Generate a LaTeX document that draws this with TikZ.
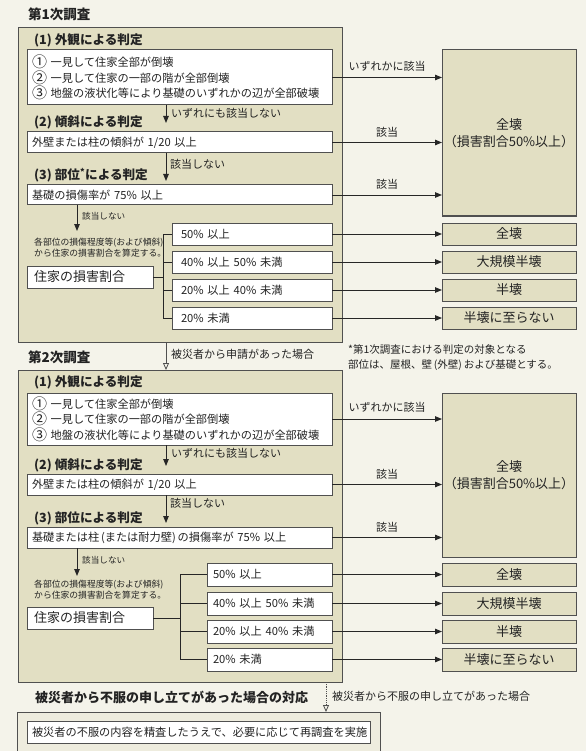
\documentclass[tikz,border=0pt]{standalone}
\usepackage{fontspec}
\setmainfont{Noto Sans CJK JP}
\usetikzlibrary{arrows.meta,calc}
\definecolor{bgc}{RGB}{244,243,234}
\definecolor{panelc}{RGB}{226,223,195}
\definecolor{panelcc}{RGB}{238,236,222}
\definecolor{edgec}{RGB}{80,80,80}
\definecolor{txtc}{RGB}{35,35,35}
\newcommand\fsz[2]{\fontsize{#1}{#2}\selectfont}
\newcommand\cnum[1]{\raisebox{-1pt}{\fsz{15}{15}#1}}
\tikzset{
  panel/.style={draw=edgec, line width=0.9pt, fill=panelc, anchor=north west, inner sep=0pt, outer sep=0pt},
  wbox/.style={draw=edgec, line width=1pt, fill=white, anchor=north west, inner xsep=5pt, inner ysep=0pt, outer sep=0pt, align=left, font=\fsz{11.2}{15.5}, text=txtc},
  rbox/.style={draw=edgec, line width=1pt, fill=panelc, anchor=north west, inner sep=0pt, outer sep=0pt, align=center, font=\fsz{13}{17}, text=txtc, minimum width=134},
  head/.style={anchor=west, inner sep=0pt, font={\bfseries\fsz{12.6}{14}}, text=txtc},
  ttl/.style={anchor=west, inner sep=0pt, font={\bfseries\fsz{13.5}{15}}, text=txtc},
  lbl/.style={anchor=west, inner sep=0pt, font=\fsz{11}{15}, text=txtc},
  lblc/.style={inner sep=0pt, font=\fsz{11}{15}, text=txtc},
  small/.style={anchor=west, inner sep=0pt, align=left, font=\fsz{8.8}{11}, text=txtc},
  smalllbl/.style={anchor=west, inner sep=0pt, font=\fsz{8.6}{10}, text=txtc},
  arr/.style={-{Triangle[length=7pt,width=5.5pt]}, line width=0.9pt, draw=black!85},
  oarr/.style={-{Triangle[open,length=7pt,width=6pt]}, line width=0.8pt, draw=edgec},
  conn/.style={line width=0.9pt, draw=black!85},
}
\begin{document}
\begin{tikzpicture}[x=1pt,y=-1pt]
\useasboundingbox (0,0) rectangle (586,751);
\clip (0,0) rectangle (586,751);
\fill[bgc] (0,0) rectangle (586,751);

% ---------- Panel 1 ----------
\node[ttl] (t1) at (28,14) {第1次調査};
\node[panel, minimum width=324, minimum height=315] (p1) at (18,27) {};
\node[head] (h11) at (34,40) {(1) 外観による判定};
\node[wbox, text width=295, minimum height=55] (b11) at (27,50) {\cnum{①} 一見して住家全部が倒壊\\\cnum{②} 一見して住家の一部の階が全部倒壊\\\cnum{③} 地盤の液状化等により基礎のいずれかの辺が全部破壊};
\node[head] (h12) at (34,122) {(2) 傾斜による判定};
\node[wbox, text width=295, minimum height=21] (b12) at (27,132) {外壁または柱の傾斜が 1/20 以上};
\node[head] (h13) at (34,175) {(3) 部位\textsuperscript{*}による判定};
\node[wbox, text width=295, minimum height=20] (b13) at (27,185) {基礎の損傷率が 75\% 以上};
\node[small] (s1) at (34,247.5) {各部位の損傷程度等(および傾斜)\\から住家の損害割合を算定する。};
\node[wbox, inner xsep=7pt, text width=112, minimum height=22, font=\fsz{13}{15}] (b14) at (27,266) {住家の損害割合};

\node[wbox, inner xsep=9pt, text width=142, minimum height=22] (r11) at (172,223) {50\% 以上};
\node[wbox, inner xsep=9pt, text width=142, minimum height=22] (r12) at (172,251) {40\% 以上 50\% 未満};
\node[wbox, inner xsep=9pt, text width=142, minimum height=22] (r13) at (172,279) {20\% 以上 40\% 未満};
\node[wbox, inner xsep=9pt, text width=142, minimum height=22] (r14) at (172,307) {20\% 未満};

\node[rbox, minimum height=166] (G1) at (442,50) {全壊\\（損害割合50\%以上）};
\node[rbox, minimum height=22] (R11) at (442,223) {全壊};
\node[rbox, minimum height=22] (R12) at (442,251) {大規模半壊};
\node[rbox, minimum height=22] (R13) at (442,279) {半壊};
\node[rbox, minimum height=22] (R14) at (442,307) {半壊に至らない};

\coordinate (vx) at (166,0);
\coordinate (e11) at (166,123);
\coordinate (e12) at (166,181);
\coordinate (e13) at (77,231);
\draw[arr] (vx |- b11.south) -- (e11);
\node[lbl] (l11) at (171,113) {いずれにも該当しない};
\draw[arr] (vx |- b12.south) -- (e12);
\node[lbl] (l12) at (170,164) {該当しない};
\draw[arr] (e13 |- b13.south) -- (e13);
\node[smalllbl] (l13) at (82,216) {該当しない};

\draw[arr] (b11.east) -- (G1.west |- b11.east) node[lblc, midway, above=6pt] (m11) {いずれかに該当};
\draw[arr] (b12.east) -- (G1.west |- b12.east) node[lblc, midway, above=5pt] (m12) {該当};
\draw[arr] (b13.east) -- (G1.west |- b13.east) node[lblc, midway, above=5pt] (m13) {該当};

\coordinate (bx1) at (163,0);
\draw[conn] (b14.east) -- (bx1 |- b14.east);
\draw[conn] (bx1 |- r11.west) -- (bx1 |- r14.west);
\foreach \i in {1,...,4} {
  \draw[conn] (bx1 |- r1\i.west) -- (r1\i.west);
  \draw[arr] (r1\i.east) -- (R1\i.west);
}

% ---------- Panel 2 ----------
\node[ttl] (t2) at (28,357) {第2次調査};
\node[panel, minimum width=324, minimum height=312] (p2) at (18,370) {};
\draw[oarr] (vx |- p1.south) -- (vx |- p2.north);
\node[lbl] (l2) at (171,354) {被災者から申請があった場合};
\node[lbl, align=left, font=\fsz{10.5}{15}] (note) at (348,357.5) {*第1次調査における判定の対象となる\\部位は、屋根、壁\,(外壁)\,および基礎とする。};

\node[head] (h21) at (34,382) {(1) 外観による判定};
\node[wbox, text width=295, minimum height=52] (b21) at (27,393) {\cnum{①} 一見して住家全部が倒壊\\\cnum{②} 一見して住家の一部の階が全部倒壊\\\cnum{③} 地盤の液状化等により基礎のいずれかの辺が全部破壊};
\node[head] (h22) at (34,465) {(2) 傾斜による判定};
\node[wbox, text width=295, minimum height=21] (b22) at (27,474) {外壁または柱の傾斜が 1/20 以上};
\node[head] (h23) at (34,518) {(3) 部位による判定};
\node[wbox, text width=295, minimum height=21] (b23) at (27,527) {基礎または柱\,(または耐力壁)\,の損傷率が 75\% 以上};
\node[small] (s2) at (34,589.5) {各部位の損傷程度等(および傾斜)\\から住家の損害割合を算定する。};
\node[wbox, inner xsep=7pt, text width=112, minimum height=22, font=\fsz{13}{15}] (b24) at (27,607) {住家の損害割合};

\node[wbox, inner xsep=6pt, text width=113, minimum height=23] (r21) at (207,563) {50\% 以上};
\node[wbox, inner xsep=6pt, text width=113, minimum height=23] (r22) at (207,592) {40\% 以上 50\% 未満};
\node[wbox, inner xsep=6pt, text width=113, minimum height=23] (r23) at (207,620) {20\% 以上 40\% 未満};
\node[wbox, inner xsep=6pt, text width=113, minimum height=23] (r24) at (207,648) {20\% 未満};

\node[rbox, minimum height=164] (G2) at (442,393) {全壊\\（損害割合50\%以上）};
\node[rbox, minimum height=23] (R21) at (442,563) {全壊};
\node[rbox, minimum height=23] (R22) at (442,592) {大規模半壊};
\node[rbox, minimum height=23] (R23) at (442,620) {半壊};
\node[rbox, minimum height=23] (R24) at (442,648) {半壊に至らない};

\coordinate (e21) at (166,466);
\coordinate (e22) at (166,523);
\coordinate (e23) at (77,576);
\draw[arr] (vx |- b21.south) -- (e21);
\node[lbl] (l21) at (171,453) {いずれにも該当しない};
\draw[arr] (vx |- b22.south) -- (e22);
\node[lbl] (l22) at (170,503) {該当しない};
\draw[arr] (e23 |- b23.south) -- (e23);
\node[smalllbl] (l23) at (82,560) {該当しない};

\draw[arr] (b21.east) -- (G2.west |- b21.east) node[lblc, midway, above=6pt] (m21) {いずれかに該当};
\draw[arr] (b22.east) -- (G2.west |- b22.east) node[lblc, midway, above=5pt] (m22) {該当};
\draw[arr] (b23.east) -- (G2.west |- b23.east) node[lblc, midway, above=5pt] (m23) {該当};

\coordinate (bx2) at (180,0);
\draw[conn] (b24.east) -- (bx2 |- b24.east);
\draw[conn] (bx2 |- r21.west) -- (bx2 |- r24.west);
\foreach \i in {1,...,4} {
  \draw[conn] (bx2 |- r2\i.west) -- (r2\i.west);
  \draw[arr] (r2\i.east) -- (R2\i.west);
}

% ---------- Bottom ----------
\node[ttl, font={\bfseries\fsz{13}{15}}] (t3) at (35,697) {被災者から不服の申し立てがあった場合の対応};
\node[panel, fill=panelcc, minimum width=363, minimum height=50] (p3) at (17,712) {};
\coordinate (vx3) at (326,0);
\draw[oarr, densely dotted] (vx3 |- p2.south) -- (vx3 |- p3.north);
\node[lbl] (l3) at (332,696) {被災者から不服の申し立てがあった場合};
\node[wbox, text width=333, minimum height=22] (b31) at (27,721) {被災者の不服の内容を精査したうえで、必要に応じて再調査を実施};
\end{tikzpicture}
\end{document}
